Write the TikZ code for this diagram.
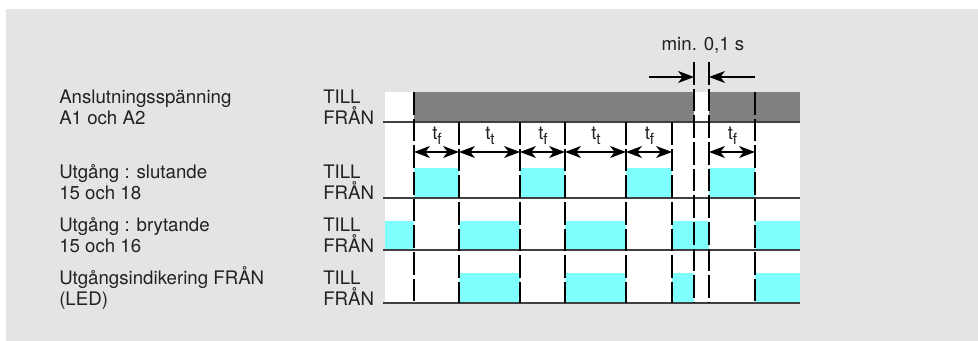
\documentclass[tikz,border=0pt]{standalone}
\usepackage{fontspec}
\setmainfont{TeX Gyre Heros}
\usetikzlibrary{arrows.meta}
\definecolor{panelgray}{HTML}{E4E4E4}
\definecolor{supplygray}{HTML}{808080}
\definecolor{outcyan}{HTML}{80FFFF}
\definecolor{inkgray}{HTML}{222222}

\begin{document}
\begin{tikzpicture}[x=0.75pt,y=-0.75pt,
  lbl/.style={anchor=base west, inner sep=0, text=inkgray,
    font=\fontsize{14pt}{16pt}\selectfont},
  tlbl/.style={anchor=base, inner sep=0, text=inkgray,
    font=\fontsize{14pt}{16pt}\selectfont},
  baseln/.style={draw=black!75, line width=0.9pt},
  edge/.style={draw=black, line width=1.1pt, dash pattern=on 17pt off 3pt},
  dimarrow/.style={draw=black, line width=0.8pt, {Stealth[length=12pt,width=9pt,inset=3.5pt]}-{Stealth[length=12pt,width=9pt,inset=3.5pt]}},
  onearrow/.style={draw=black, line width=0.8pt, -{Stealth[length=12pt,width=9pt,inset=3.5pt]}}]

\newcommand{\tsub}[1]{t\raisebox{-3.5pt}{\fontsize{11.5pt}{11.5pt}\selectfont #1}}

% page and panel
\useasboundingbox (0,0) rectangle (978,341);
\fill[panelgray] (6,9) rectangle (978,341);
\fill[white] (385,92) rectangle (800,303);

% supply voltage A1-A2
\fill[supplygray] (414,92) rectangle (694,122);
\fill[supplygray] (709,92) rectangle (800,122);

% output 15-18 (closing)
\foreach \a/\b in {414/459,520/565,626/672,709/755}
  \fill[outcyan] (\a,168) rectangle (\b,198);
% output 15-16 (opening)
\foreach \a/\b in {385/414,459/520,565/626,672/709,755/800}
  \fill[outcyan] (\a,221) rectangle (\b,250);
% LED indication
\foreach \a/\b in {459/520,565/626,672/694,755/800}
  \fill[outcyan] (\a,273) rectangle (\b,303);

% signal base lines
\foreach \y in {122,198,250,303}
  \draw[baseln] (383,\y) -- (800,\y);

% switching instants
\foreach \x in {414,755}
  \draw[edge] (\x,92) -- (\x,303);
\foreach \x in {459,520,565,626,672}
  \draw[edge] (\x,122) -- (\x,303);
\foreach \x in {694,709}
  \draw[edge] (\x,62) -- (\x,303);

% row labels
\node[lbl] (n1a) at (59,103.5) {Anslutningsspänning};
\node[lbl] (n1b) at (59,124.5) {A1 och A2};
\node[lbl] (n2a) at (59,178.5) {Utgång : slutande};
\node[lbl] (n2b) at (59,199.5) {15 och 18};
\node[lbl] (n3a) at (59,231.5) {Utgång : brytande};
\node[lbl] (n3b) at (59,252.5) {15 och 16};
\node[lbl] (n4a) at (59,284.5) {Utgångsindikering FRÅN};
\node[lbl] (n4b) at (59,305.5) {(LED)};

\foreach \r/\yt/\yf in {1/103.5/124.5,2/178.5/199.5,3/231.5/252.5,4/284.5/305.5}{
  \node[lbl] (till\r) at (323,\yt) {TILL};
  \node[lbl] (fran\r) at (323,\yf) {FRÅN};
}

% time intervals
\foreach \i/\x in {0/414,1/459,2/520,3/565,4/626,5/672,6/709,7/755}
  \coordinate (p\i) at (\x,152);
\draw[dimarrow] (p0) -- (p1);
\draw[dimarrow] (p1) -- (p2);
\draw[dimarrow] (p2) -- (p3);
\draw[dimarrow] (p3) -- (p4);
\draw[dimarrow] (p4) -- (p5);
\draw[dimarrow] (p6) -- (p7);

\node[tlbl] (tf1) at (437,140) {\tsub{f}};
\node[tlbl] (tt1) at (490,140) {\tsub{t}};
\node[tlbl] (tf2) at (543,140) {\tsub{f}};
\node[tlbl] (tt2) at (596,140) {\tsub{t}};
\node[tlbl] (tf3) at (649.5,140) {\tsub{f}};
\node[tlbl] (tf4) at (732.5,140) {\tsub{f}};

% minimum interruption time
\coordinate (g0) at (649,77);
\coordinate (g1) at (694,77);
\coordinate (g2) at (709,77);
\coordinate (g3) at (755,77);
\draw[onearrow] (g0) -- (g1);
\draw[onearrow] (g3) -- (g2);
\node[tlbl] (tmin) at (703,51) {min. 0,1 s};

\end{tikzpicture}
\end{document}
